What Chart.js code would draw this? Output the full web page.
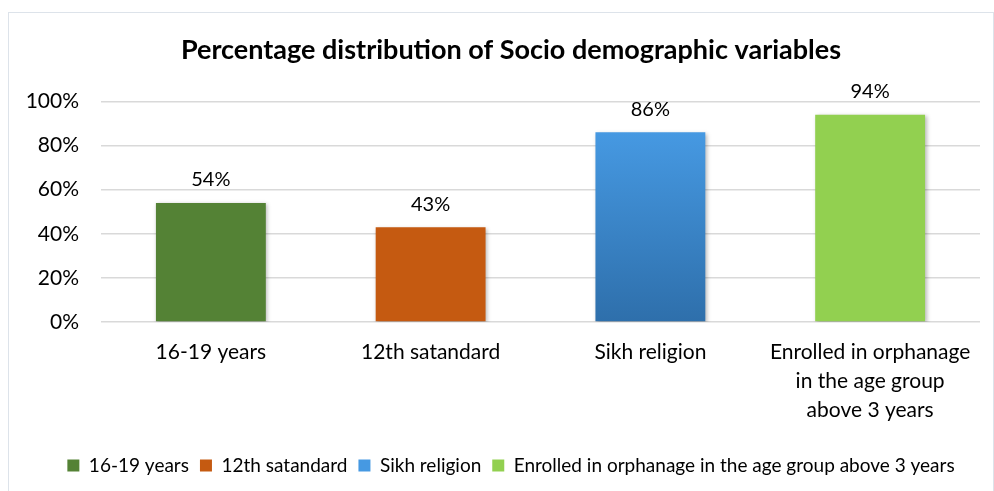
<!DOCTYPE html>
<html>
<head>
<meta charset="utf-8">
<script src="https://cdn.jsdelivr.net/npm/chart.js@4/dist/chart.umd.min.js"></script>
<style>
  html, body { margin: 0; padding: 0; background: #fff; overflow: hidden; }
  #marco { position: absolute; left: 8px; top: 12px; width: 986px; height: 490px; border: 1px solid #dde3ea; box-sizing: border-box; }
  #grafico { position: absolute; left: 0; top: 0; }
</style>
</head>
<body>
<div id="marco"></div>
<canvas id="grafico" width="994" height="491"></canvas>
<script>
// Datos del gráfico
const categorias = [
  '16-19 years',
  '12th satandard',
  'Sikh religion',
  ['Enrolled in orphanage', 'in the age group', 'above 3 years']
];
const nombresLeyenda = [
  '16-19 years',
  '12th satandard',
  'Sikh religion',
  'Enrolled in orphanage in the age group above 3 years'
];
const porcentajes = [54, 43, 86, 94];
const ticksY = [0, 20, 40, 60, 80, 100];
const colores = ['#548235', '#c55a11', '#4699e2', '#92d050'];

const fuente = 'Lato, "Open Sans", sans-serif';

// Colores de barras (la azul lleva degradado)
function colorBarra(ctx) {
  const i = ctx.dataIndex;
  if (i !== 2) return colores[i];
  const chart = ctx.chart;
  const y = chart.scales.y;
  if (!chart.chartArea || !y) return colores[i];
  const arriba = y.getPixelForValue(porcentajes[i]);
  const abajo = y.getPixelForValue(0);
  const grad = chart.ctx.createLinearGradient(0, arriba, 0, abajo);
  grad.addColorStop(0, '#4699e2');
  grad.addColorStop(1, '#2e6fab');
  return grad;
}

// Sombra suave debajo de las barras
const sombraBarras = {
  id: 'sombraBarras',
  beforeDatasetsDraw(chart) {
    const ctx = chart.ctx;
    ctx.save();
    ctx.shadowColor = 'rgba(0,0,0,0.28)';
    ctx.shadowBlur = 4;
    ctx.shadowOffsetX = 1.5;
    ctx.shadowOffsetY = 1.5;
  },
  afterDatasetsDraw(chart) {
    chart.ctx.restore();
  }
};

// Etiquetas de valor encima de cada barra
const etiquetasValor = {
  id: 'etiquetasValor',
  afterDatasetsDraw(chart) {
    const ctx = chart.ctx;
    const meta = chart.getDatasetMeta(0);
    ctx.save();
    ctx.font = '20px ' + fuente;
    ctx.fillStyle = '#000';
    ctx.textAlign = 'center';
    ctx.textBaseline = 'bottom';
    meta.data.forEach((barra, i) => {
      ctx.fillText(porcentajes[i] + '%', barra.x, barra.y - 13);
    });
    ctx.restore();
  }
};

// Título y leyenda un poco corridos a la derecha, como en el original
const correrCajas = {
  id: 'correrCajas',
  afterLayout(chart) {
    [chart.titleBlock, chart.legend].forEach(caja => {
      if (!caja) return;
      caja.left += 21;
      caja.right += 21;
    });
  }
};

new Chart(document.getElementById('grafico'), {
  type: 'bar',
  data: {
    labels: categorias,
    datasets: [{
      data: porcentajes,
      backgroundColor: colorBarra,
      borderWidth: 0,
      categoryPercentage: 1,
      barPercentage: 0.5
    }]
  },
  plugins: [sombraBarras, etiquetasValor, correrCajas],
  options: {
    responsive: false,
    animation: false,
    devicePixelRatio: 1,
    layout: { padding: { left: 0, right: 14, top: 0, bottom: 6 } },
    scales: {
      y: {
        min: 0,
        max: 100,
        afterBuildTicks(scale) { scale.ticks = ticksY.map(v => ({ value: v })); },
        afterFit(scale) { scale.width = 101; },
        border: { display: false },
        grid: { color: '#d9d9d9', lineWidth: 1.5, drawTicks: false },
        ticks: {
          padding: 22,
          color: '#000',
          font: { family: fuente, size: 21 },
          callback: v => v + '%'
        }
      },
      x: {
        border: { display: false },
        grid: { display: false, drawTicks: false },
        afterFit(scale) { scale.height = 123; },
        ticks: {
          padding: 16,
          color: '#000',
          maxRotation: 0,
          autoSkip: false,
          font: { family: fuente, size: 21, lineHeight: 1.38 }
        }
      }
    },
    plugins: {
      title: {
        display: true,
        text: 'Percentage distribution of Socio demographic variables',
        color: '#000',
        font: { family: fuente, size: 27, weight: 'bold' },
        padding: { top: 34, bottom: 35 }
      },
      legend: {
        position: 'bottom',
        onClick: null,
        labels: {
          boxWidth: 12,
          boxHeight: 12,
          padding: 11,
          color: '#000',
          font: { family: fuente, size: 19 },
          generateLabels: () => nombresLeyenda.map((n, i) => ({
            text: n,
            fillStyle: colores[i],
            strokeStyle: 'rgba(0,0,0,0)',
            lineWidth: 0,
            index: i
          }))
        }
      },
      tooltip: { enabled: false }
    }
  }
});
</script>
</body>
</html>
